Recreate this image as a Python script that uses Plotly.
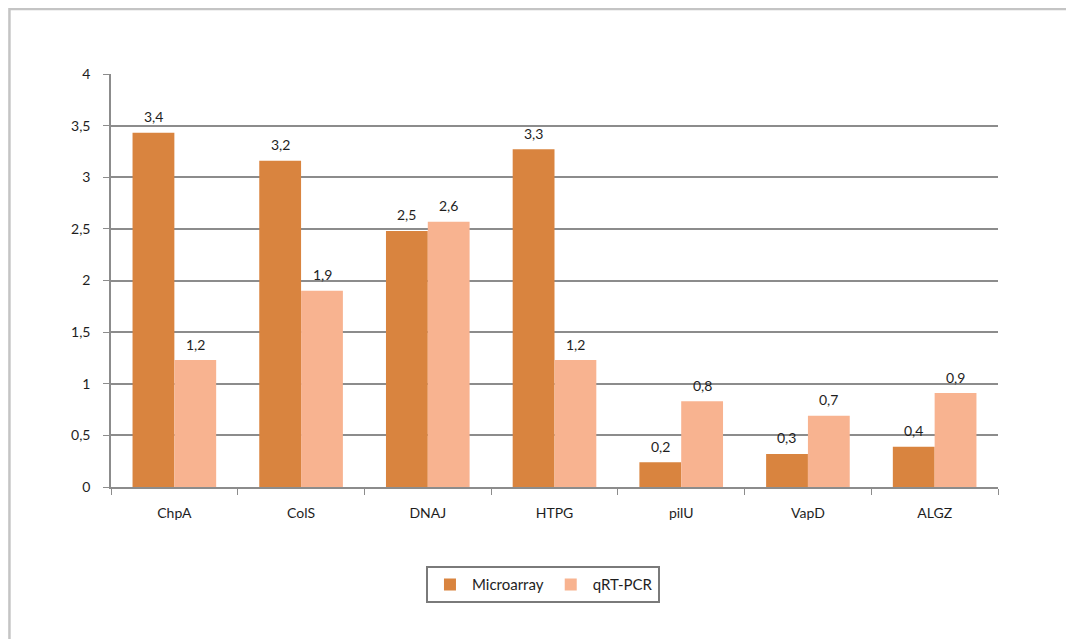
import plotly.graph_objects as go

categories = ["ChpA", "ColS", "DNAJ", "HTPG", "pilU", "VapD", "ALGZ"]
microarray = [3.43, 3.16, 2.48, 3.27, 0.24, 0.32, 0.39]
qrtpcr = [1.23, 1.90, 2.57, 1.23, 0.83, 0.69, 0.91]
series_names = ["Microarray", "qRT-PCR"]
series_colors = ["#D9843F", "#F8B390"]

fam = "Lato, Open Sans, sans-serif"
fnt = dict(family=fam, size=14, color="#1e1e1e")

fig = go.Figure()
for name, vals, col in zip(series_names, [microarray, qrtpcr], series_colors):
    fig.add_trace(go.Bar(x=categories, y=vals, name=name,
                         marker=dict(color=col, line=dict(width=0))))

# data labels above bars
for vals, shift in [(microarray, -21), (qrtpcr, 21)]:
    for c, v in zip(categories, vals):
        fig.add_annotation(x=c, y=v, text=f"{v:.1f}".replace(".", ","),
                           xshift=shift, yshift=16, showarrow=False,
                           font=fnt, yanchor="middle")

fig.update_layout(
    width=1074, height=639,
    margin=dict(l=103, r=84, t=66, b=160),
    paper_bgcolor="white", plot_bgcolor="white",
    separators=",.",
    barmode="group", bargap=0.34, bargroupgap=0,
    font=fnt,
    showlegend=True,
    legend=dict(orientation="h", x=0.487, xanchor="center", y=-0.192, yanchor="top",
                bordercolor="#7a7a7a", borderwidth=2,
                font=dict(size=15, family=fam, color="#1e1e1e"),
                itemwidth=34, tracegroupgap=0),
    xaxis=dict(showline=True, linecolor="#8c8c8c", linewidth=1.5, ticks="outside",
               tickson="boundaries", ticklen=6, tickcolor="#8c8c8c", showgrid=False,
               tickfont=fnt, ticklabelstandoff=12),
    yaxis=dict(range=[0, 4], dtick=0.5, showgrid=True, gridcolor="#8c8c8c", gridwidth=1.5,
               showline=True, linecolor="#8c8c8c", linewidth=1.5, ticks="outside",
               ticklen=6, tickcolor="#8c8c8c", zeroline=False, tickfont=fnt,
               ticklabelstandoff=10),
    shapes=[dict(type="rect", xref="paper", yref="paper", x0=-0.1145, x1=1.3, y0=-0.7, y1=1.1575,
                 line=dict(color="#c4c4c4", width=2.5), fillcolor="rgba(0,0,0,0)", layer="below")],
)

fig.write_html("out.html")
